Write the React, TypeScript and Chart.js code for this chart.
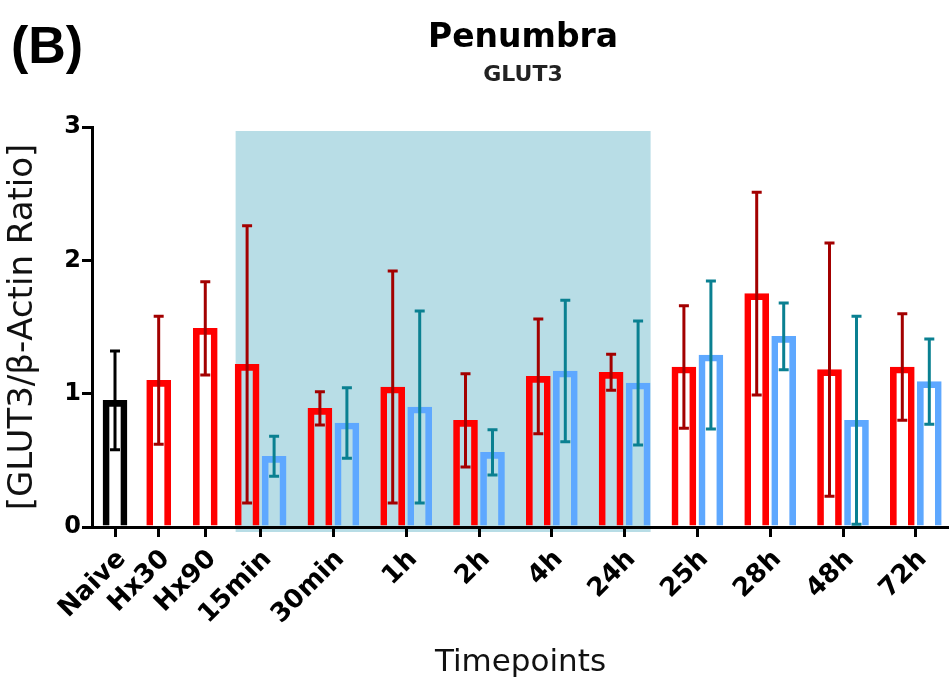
import React, { useEffect, useRef } from "react";
import { Chart, registerables } from "chart.js";

Chart.register(...registerables);

// ---- data ----
const categories = ["Naive", "Hx30", "Hx90", "15min", "30min", "1h", "2h", "4h", "24h", "25h", "28h", "48h", "72h"];
const series1Means = [0.95, 1.10, 1.49, 1.22, 0.89, 1.05, 0.80, 1.13, 1.16, 1.20, 1.75, 1.18, 1.20];
const series1Errors = [0.37, 0.48, 0.35, 1.04, 0.125, 0.87, 0.35, 0.43, 0.135, 0.46, 0.76, 0.95, 0.40];
const series2Means = [null, null, null, 0.53, 0.78, 0.90, 0.56, 1.17, 1.08, 1.29, 1.43, 0.80, 1.09];
const series2Errors = [null, null, null, 0.15, 0.265, 0.72, 0.17, 0.53, 0.465, 0.555, 0.25, 0.78, 0.32];
const yTickValues = [0, 1, 2, 3];
const shadedFrom = "15min";
const shadedTo = "24h";

// ---- layout (axis positions of the category groups, GraphPad-style gaps) ----
const categoryPositions = [0, 0.6, 1.24, 2, 3, 4, 5, 6, 7, 8, 9, 10, 11];
const X_MIN = -0.316;
const X_MAX = 11.456;

// ---- styles ----
const RED = "#ff0000";
const BLUE = "#5ea8ff";
const BLACK = "#000000";
const RED_ERR = "#a30000";
const BLUE_ERR = "#0a8091";
const SHADE = "#b8dde6";
const FONT = '"DejaVu Sans", "Liberation Sans", sans-serif';

const series1Colors = categories.map((c) => (c === "Naive" ? BLACK : RED));
const series1ErrColors = categories.map((c) => (c === "Naive" ? BLACK : RED_ERR));
const series2ErrColors = categories.map(() => BLUE_ERR);

const shadePlugin = {
  id: "shadePlugin",
  beforeDraw(chart: any) {
    const { ctx, scales } = chart;
    const x = scales.x;
    const y = scales.y;
    const i0 = categories.indexOf(shadedFrom);
    const i1 = categories.indexOf(shadedTo);
    const left = x.getPixelForValue(categoryPositions[i0]) - 25;
    const right = x.getPixelForValue(categoryPositions[i1]) + 26;
    const top = y.getPixelForValue(2.97);
    const bottom = y.getPixelForValue(0) + 5;
    ctx.save();
    ctx.fillStyle = SHADE;
    ctx.fillRect(left, top, right - left, bottom - top);
    ctx.restore();
  },
};

const errorBarPlugin = {
  id: "errorBarPlugin",
  afterDatasetsDraw(chart: any) {
    const { ctx } = chart;
    const y = chart.scales.y;
    chart.data.datasets.forEach((ds: any, di: number) => {
      const meta = chart.getDatasetMeta(di);
      meta.data.forEach((bar: any, i: number) => {
        const m = ds.means[i];
        const e = ds.errors[i];
        if (m == null || e == null) return;
        const cx = bar.x;
        const yTop = y.getPixelForValue(m + e);
        const yBot = y.getPixelForValue(Math.max(0, m - e));
        ctx.save();
        ctx.strokeStyle = ds.errColors[i];
        ctx.lineWidth = 3;
        ctx.beginPath();
        ctx.moveTo(cx, yTop);
        ctx.lineTo(cx, yBot);
        ctx.moveTo(cx - 5, yTop);
        ctx.lineTo(cx + 5, yTop);
        ctx.moveTo(cx - 5, yBot);
        ctx.lineTo(cx + 5, yBot);
        ctx.stroke();
        ctx.restore();
      });
    });
  },
};

const textPlugin = {
  id: "textPlugin",
  afterDraw(chart: any) {
    const { ctx } = chart;
    ctx.save();
    ctx.fillStyle = "#000";
    ctx.textBaseline = "alphabetic";
    ctx.textAlign = "left";
    ctx.font = 'bold 52px "Liberation Sans", sans-serif';
    ctx.fillText("(B)", 11, 63);
    ctx.textAlign = "center";
    ctx.font = "bold 33px " + FONT;
    ctx.fillText("Penumbra", 523, 47);
    ctx.fillStyle = "#222";
    ctx.font = "bold 22px " + FONT;
    ctx.fillText("GLUT3", 523, 81);
    ctx.restore();
  },
};

export default function App() {
  const canvasRef = useRef<HTMLCanvasElement | null>(null);

  useEffect(() => {
    document.body.style.margin = "0";
    const canvas = canvasRef.current;
    if (!canvas) return;

    const chart = new Chart(canvas, {
      type: "bar",
      data: {
        datasets: [
          {
            label: "Series 1",
            data: categories.map((_, i) => ({ x: categoryPositions[i], y: series1Means[i] })),
            backgroundColor: "rgba(0,0,0,0)",
            borderColor: series1Colors,
            borderWidth: 6,
            borderSkipped: "start",
            means: series1Means,
            errors: series1Errors,
            errColors: series1ErrColors,
          } as any,
          {
            label: "Series 2",
            data: categories.map((_, i) => ({ x: categoryPositions[i], y: series2Means[i] })),
            backgroundColor: "rgba(0,0,0,0)",
            borderColor: BLUE,
            borderWidth: 6,
            borderSkipped: "start",
            means: series2Means,
            errors: series2Errors,
            errColors: series2ErrColors,
          } as any,
        ],
      },
      options: {
        responsive: false,
        animation: false,
        devicePixelRatio: 1,
        skipNull: true,
        barThickness: 27,
        maxBarThickness: 24,
        layout: { padding: { top: 127, left: 0, right: 0, bottom: 0 } },
        plugins: {
          legend: { display: false },
          tooltip: { enabled: false },
          title: { display: false },
        },
        scales: {
          x: {
            type: "linear",
            min: X_MIN,
            max: X_MAX,
            offset: false,
            afterBuildTicks: (scale: any) => {
              scale.ticks = categoryPositions.map((v) => ({ value: v }));
            },
            afterFit: (scale: any) => {
              scale.height = 155;
            },
            grid: {
              offset: false,
              drawOnChartArea: false,
              drawTicks: true,
              tickLength: 10,
              color: BLACK,
              lineWidth: 3,
              z: 1,
            },
            border: { display: true, color: BLACK, width: 3, z: 1 },
            ticks: {
              autoSkip: false,
              minRotation: 45,
              maxRotation: 45,
              padding: 7,
              labelOffset: 7,
              color: BLACK,
              font: { family: FONT, size: 26, weight: "bold" },
              callback: (_v: any, i: number) => categories[i],
            },
            title: {
              display: true,
              text: "Timepoints",
              color: "#111",
              font: { family: FONT, size: 31 },
              padding: { top: 0, bottom: 0 },
            },
          },
          y: {
            type: "linear",
            min: 0,
            max: 3,
            afterBuildTicks: (scale: any) => {
              scale.ticks = yTickValues.map((v) => ({ value: v }));
            },
            afterFit: (scale: any) => {
              scale.width = 92;
            },
            grid: {
              drawOnChartArea: false,
              drawTicks: true,
              tickLength: 10,
              color: BLACK,
              lineWidth: 3,
              z: 1,
            },
            border: { display: true, color: BLACK, width: 3, z: 1 },
            ticks: {
              padding: 1,
              color: BLACK,
              font: { family: FONT, size: 24, weight: "bold" },
              callback: (v: any) => String(v),
            },
            title: {
              display: true,
              text: "[GLUT3/β-Actin Ratio]",
              color: "#111",
              font: { family: FONT, size: 34 },
              padding: { top: 3, bottom: 0 },
            },
          },
        },
      } as any,
      plugins: [shadePlugin, errorBarPlugin, textPlugin],
    });

    return () => {
      chart.destroy();
    };
  }, []);

  return (
    <div style={{ width: 949, height: 682 }}>
      <canvas ref={canvasRef} width={949} height={682} style={{ display: "block" }} />
    </div>
  );
}
